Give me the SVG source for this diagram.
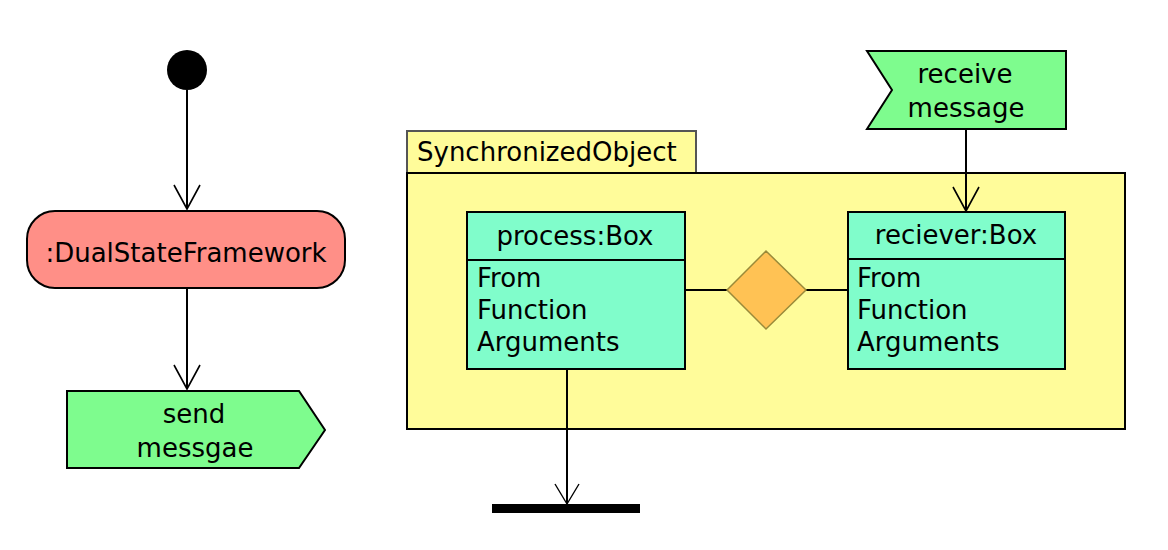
<svg xmlns="http://www.w3.org/2000/svg" width="1168" height="550" viewBox="0 0 1168 550">
<defs>
<marker id="arr" markerWidth="28" markerHeight="32" refX="0" refY="0" orient="auto" markerUnits="userSpaceOnUse" viewBox="-26 -16 28 32">
<polyline points="-24,-13 0,0 -24,13" fill="none" stroke="#000" stroke-width="1.6"/>
</marker>
<marker id="arrS" markerWidth="28" markerHeight="32" refX="0" refY="0" orient="auto" markerUnits="userSpaceOnUse" viewBox="-26 -16 28 32">
<polyline points="-20,-12 0,0 -20,12" fill="none" stroke="#000" stroke-width="1.4"/>
</marker>
<style>
text{font-family:"DejaVu Sans","Liberation Sans",sans-serif;font-size:26px;fill:#000}
.c{text-anchor:middle}
.ln{stroke:#000;stroke-width:2;fill:none}
.box{fill:#80FDCB;stroke:#000;stroke-width:2}
.sig{fill:#7EFC8E;stroke:#000;stroke-width:2}
</style>
</defs>
<rect width="1168" height="550" fill="#fff"/>

<g id="package">
<rect x="407" y="131" width="289" height="42" fill="#FFFC9A" stroke="#555" stroke-width="2"/>
<rect x="407" y="173" width="718" height="256" fill="#FFFC9A" stroke="#000" stroke-width="2"/>
<text x="417" y="161">SynchronizedObject</text>
</g>

<g id="connectors">
<line class="ln" x1="187" y1="90" x2="187" y2="209" marker-end="url(#arr)"/>
<line class="ln" x1="187" y1="288" x2="187" y2="389" marker-end="url(#arr)"/>
<line class="ln" x1="966" y1="129" x2="966" y2="211" marker-end="url(#arr)"/>
<line class="ln" x1="567" y1="369" x2="567" y2="504" marker-end="url(#arrS)"/>
<line class="ln" x1="685" y1="290" x2="727" y2="290"/>
<line class="ln" x1="806" y1="290" x2="848" y2="290"/>
</g>

<g id="start">
<circle cx="187" cy="70" r="20" fill="#000"/>
</g>

<g id="dualStateFramework">
<rect x="27" y="211" width="318" height="77" rx="28" ry="28" fill="#FF8F87" stroke="#000" stroke-width="2"/>
<text class="c" x="186" y="262">:DualStateFramework</text>
</g>

<g id="sendMessage">
<polygon class="sig" points="67,391 299,391 325,430 299,468 67,468"/>
<text class="c" x="194" y="423">send</text>
<text class="c" x="195" y="457">messgae</text>
</g>

<g id="receiveMessage">
<polygon class="sig" points="867,51 1066,51 1066,129 867,129 892,90"/>
<text class="c" x="965" y="83">receive</text>
<text class="c" x="966" y="117">message</text>
</g>

<g id="processBox">
<rect class="box" x="467" y="212" width="218" height="157"/>
<line class="ln" x1="467" y1="260" x2="685" y2="260"/>
<text class="c" x="575" y="245">process:Box</text>
<text x="477" y="287">From</text>
<text x="477" y="319">Function</text>
<text x="477" y="351">Arguments</text>
</g>

<g id="recieverBox">
<rect class="box" x="848" y="212" width="217" height="157"/>
<line class="ln" x1="848" y1="259" x2="1065" y2="259"/>
<text class="c" x="956" y="244">reciever:Box</text>
<text x="857" y="287">From</text>
<text x="857" y="319">Function</text>
<text x="857" y="351">Arguments</text>
</g>

<g id="decision">
<polygon points="766,251 806,290 766,329 727,290" fill="#FFC254" stroke="#9A8A3A" stroke-width="1.5"/>
</g>

<g id="syncBar">
<rect x="492" y="504" width="148" height="9" fill="#000"/>
</g>
</svg>
